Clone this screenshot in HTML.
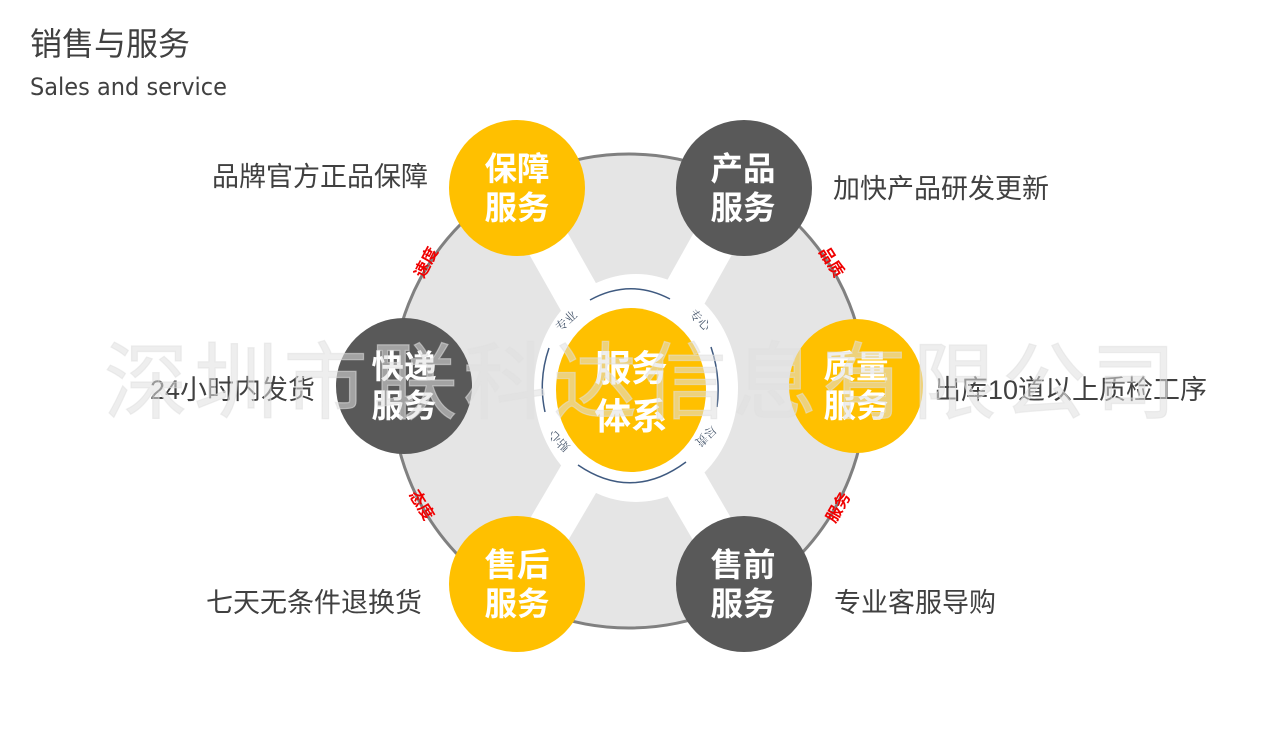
<!DOCTYPE html>
<html lang="zh">
<head>
<meta charset="utf-8">
<title>销售与服务</title>
<style>
html,body{margin:0;padding:0;background:#fff;width:1281px;height:731px;overflow:hidden}
svg{display:block}
text{font-family:"Liberation Sans","Noto Sans CJK SC",sans-serif}
.l{font-size:27px;fill:#404040}
.c{font-size:32.5px;font-weight:700;fill:#fff;text-anchor:middle}
.r{font-size:16px;font-weight:700;fill:#f00000;text-anchor:middle}
.s{font-size:12px;fill:#44546a;text-anchor:middle;font-family:"Noto Serif CJK SC",serif}
</style>
</head>
<body>
<svg width="1281" height="731" viewBox="0 0 1281 731" xmlns="http://www.w3.org/2000/svg">
<rect width="1281" height="731" fill="#fff"/>
<text x="30" y="55" font-size="32" fill="#404040">销售与服务</text>
<text x="30" y="95" font-size="24" fill="#404040" style="font-family:'DejaVu Sans',sans-serif" textLength="197" lengthAdjust="spacingAndGlyphs">Sales and service</text>

<circle cx="629" cy="391" r="237" fill="#e5e5e5" stroke="#808080" stroke-width="3"/>
<g stroke="#fff" stroke-width="44">
<line x1="631" y1="390" x2="517" y2="188"/>
<line x1="631" y1="390" x2="744" y2="188"/>
<line x1="631" y1="390" x2="517" y2="584"/>
<line x1="631" y1="390" x2="744" y2="584"/>
</g>
<ellipse cx="636" cy="388" rx="102" ry="114" fill="#fff"/>

<g fill="none" stroke="#3f5a80" stroke-width="1.5">
<path d="M590 300Q630 278 670 299"/>
<path d="M711 347Q721 377 717 407"/>
<path d="M549 348Q538 380 545 412"/>
<path d="M578 465Q632 502 686 462"/>
</g>
<text class="s" transform="translate(569 324) rotate(-42)">专业</text>
<text class="s" transform="translate(697 323) rotate(45)">专心</text>
<text class="s" transform="translate(562 438) rotate(-135)">贴心</text>
<text class="s" transform="translate(703 433) rotate(135)">尽责</text>

<ellipse cx="631" cy="390" rx="75" ry="82" fill="#ffc000"/>
<circle cx="517" cy="188" r="68" fill="#ffc000"/>
<circle cx="744" cy="188" r="68" fill="#595959"/>
<circle cx="404" cy="386" r="68" fill="#595959"/>
<circle cx="856" cy="386" r="67" fill="#ffc000"/>
<circle cx="517" cy="584" r="68" fill="#ffc000"/>
<circle cx="744" cy="584" r="68" fill="#595959"/>

<text class="c" x="517" y="180">保障</text>
<text class="c" x="517" y="219">服务</text>
<text class="c" x="743" y="180">产品</text>
<text class="c" x="743" y="219">服务</text>
<text class="c" x="404" y="378">快递</text>
<text class="c" x="404" y="417">服务</text>
<text class="c" x="856" y="378">质量</text>
<text class="c" x="856" y="417">服务</text>
<text class="c" x="517" y="576">售后</text>
<text class="c" x="517" y="615">服务</text>
<text class="c" x="743" y="576">售前</text>
<text class="c" x="743" y="615">服务</text>
<text class="c" x="631" y="381" style="font-size:36.5px">服务</text>
<text class="c" x="631" y="429" style="font-size:36.5px">体系</text>

<text class="r" transform="translate(431 265) rotate(-62)">速度</text>
<text class="r" transform="translate(827 265) rotate(58)">品质</text>
<text class="r" transform="translate(417 508) rotate(58)">态度</text>
<text class="r" transform="translate(843 510) rotate(-60)">服务</text>

<text class="l" x="212" y="186">品牌官方正品保障</text>
<text class="l" x="833" y="198">加快产品研发更新</text>
<text class="l" x="150" y="399" textLength="165">24小时内发货</text>
<text class="l" x="934" y="399" textLength="273">出库10道以上质检工序</text>
<text class="l" x="206" y="612">七天无条件退换货</text>
<text class="l" x="834" y="612">专业客服导购</text>

<text x="104" y="412" font-size="84" fill="#e0e0e0" fill-opacity=".55" stroke="#e0e0e0" stroke-opacity=".55" stroke-width="1.2" textLength="1072">深圳市联科达信息有限公司</text>
</svg>
</body>
</html>
